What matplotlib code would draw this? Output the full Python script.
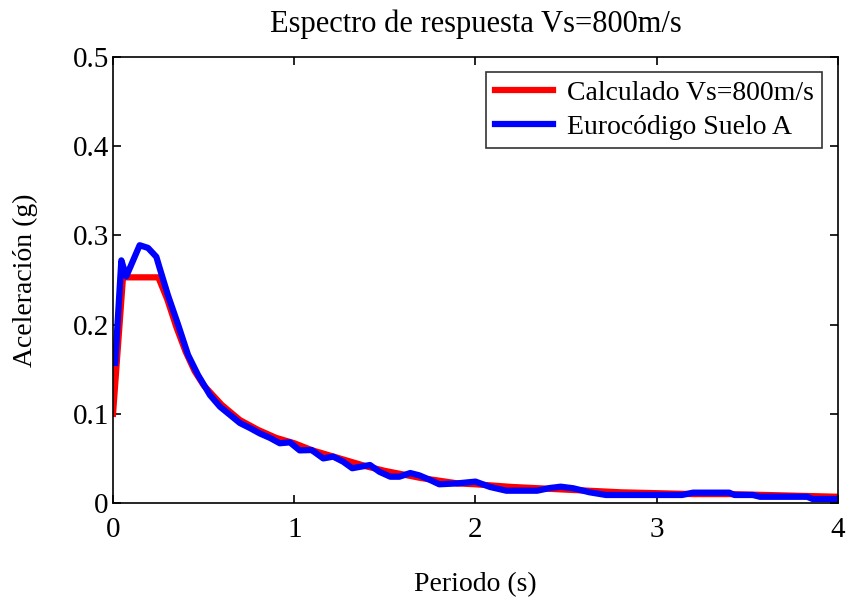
import matplotlib
matplotlib.use('Agg')
import matplotlib.pyplot as plt

# Espectro calculado (Vs=800 m/s)
t_calc = [0.0, 0.055, 0.25, 0.30, 0.35, 0.40, 0.45, 0.50, 0.60, 0.70, 0.80,
          0.90, 1.00, 1.10, 1.20, 1.30, 1.40, 1.50, 1.60, 1.70, 1.80, 1.90,
          2.00, 2.20, 2.40, 2.60, 2.80, 3.00, 3.20, 3.40, 3.60, 3.80, 4.00]
sa_calc = [0.100, 0.253, 0.253, 0.228, 0.197, 0.170, 0.148, 0.132, 0.110,
           0.093, 0.082, 0.073, 0.067, 0.059, 0.053, 0.047, 0.041, 0.036,
           0.032, 0.028, 0.025, 0.022, 0.021, 0.018, 0.016, 0.014, 0.012,
           0.011, 0.010, 0.010, 0.009, 0.008, 0.007]

# Espectro Eurocodigo, suelo A
t_ec8 = [0.012, 0.046, 0.073, 0.147, 0.193, 0.239, 0.258, 0.303, 0.359,
         0.414, 0.469, 0.535, 0.59, 0.646, 0.70, 0.756, 0.81, 0.866, 0.92,
         0.976, 1.03, 1.096, 1.16, 1.215, 1.27, 1.32, 1.418, 1.47, 1.53,
         1.58, 1.64, 1.69, 1.75, 1.80, 1.90, 2.00, 2.08, 2.17, 2.34, 2.41,
         2.47, 2.54, 2.63, 2.72, 3.09, 3.14, 3.20, 3.40, 3.43, 3.53, 3.57,
         3.83, 3.86, 4.00]
sa_ec8 = [0.157, 0.272, 0.254, 0.289, 0.286, 0.276, 0.263, 0.233, 0.200,
          0.166, 0.1435, 0.121, 0.108, 0.0987, 0.0897, 0.084, 0.078, 0.073,
          0.067, 0.068, 0.059, 0.0594, 0.050, 0.052, 0.0463, 0.039, 0.0426,
          0.035, 0.0295, 0.0295, 0.0336, 0.031, 0.0258, 0.021, 0.022, 0.024,
          0.018, 0.0138, 0.0138, 0.0168, 0.0183, 0.0165, 0.012, 0.009, 0.009,
          0.009, 0.0116, 0.0116, 0.009, 0.009, 0.007, 0.007, 0.0045, 0.0045]

plt.rcParams['font.family'] = ['Liberation Serif', 'DejaVu Serif']

fig = plt.figure(figsize=(8.51, 6.04), dpi=100)
ax = fig.add_axes([0.1328, 0.1672, 0.8519, 0.7384])

ax.plot(t_calc, sa_calc, color='red', lw=4.5, label='Calculado Vs=800m/s')
ax.plot(t_ec8, sa_ec8, color='blue', lw=4.5, label='Eurocódigo Suelo A')

ax.set_xlim(0, 4)
ax.set_ylim(0, 0.5)
ax.set_xticks([0, 1, 2, 3, 4])
ax.set_yticks([0, 0.1, 0.2, 0.3, 0.4, 0.5])
ax.set_yticklabels(['0', '0.1', '0.2', '0.3', '0.4', '0.5'])
ax.tick_params(direction='in', length=6, width=1.2, labelsize=21,
               top=True, right=True)
ax.tick_params(axis='x', pad=10)
ax.tick_params(axis='y', pad=3)
for s in ax.spines.values():
    s.set_linewidth(1.2)

ax.set_title('Espectro de respuesta Vs=800m/s', fontsize=22, pad=18)
ax.set_xlabel('Periodo (s)', fontsize=20, va='center')
ax.set_ylabel('Aceleración (g)', fontsize=20, va='center')
ax.xaxis.set_label_coords(0.5, -0.184)
ax.yaxis.set_label_coords(-0.121, 0.5)

leg = ax.legend(loc='upper right', bbox_to_anchor=(0.978, 0.966), fontsize=20,
                frameon=True, fancybox=False, edgecolor='black',
                handlelength=2.1, borderaxespad=0, borderpad=0.3,
                labelspacing=0.3, handletextpad=0.5)
leg.get_frame().set_linewidth(1.2)

fig.savefig('out.png', dpi=100)
